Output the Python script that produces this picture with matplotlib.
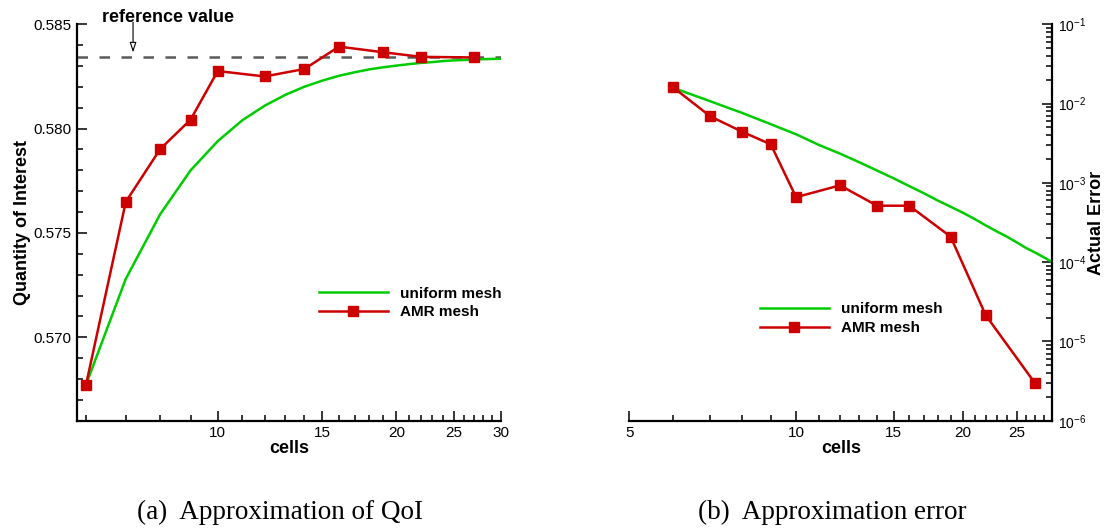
import numpy as np
import matplotlib
matplotlib.use('Agg')
import matplotlib.pyplot as plt
from matplotlib.ticker import FixedLocator, FormatStrFormatter, NullFormatter, LogLocator, MultipleLocator

plt.rcParams['font.family'] = ['Liberation Sans', 'DejaVu Sans']

# reference value of the quantity of interest
ref_value = 0.58344

# AMR mesh runs
amr_cells = [6, 7, 8, 9, 10, 12, 14, 16, 19, 22, 27]
amr_qoi = [0.56773, 0.57649, 0.57902, 0.58043, 0.58276, 0.58250, 0.58286,
           0.58393, 0.58366, 0.58344, 0.58341]
amr_err = [1.60e-2, 6.9e-3, 4.4e-3, 3.06e-3, 6.6e-4, 9.3e-4, 5.15e-4,
           5.15e-4, 2.1e-4, 2.13e-5, 2.96e-6]

# uniform mesh runs
uni_cells = list(range(6, 31))
uni_qoi = [0.56773, 0.5728, 0.5759, 0.5780, 0.5794, 0.5804, 0.5811, 0.58162,
           0.58201, 0.58230, 0.58253, 0.58270, 0.58284, 0.58294, 0.58302,
           0.58309, 0.58315, 0.58319, 0.58324, 0.58327, 0.58329, 0.58331,
           0.58333, 0.58334, 0.58335]
uni_err = [1.58e-2, 1.07e-2, 7.6e-3, 5.5e-3, 4.1e-3, 3.0e-3, 2.34e-3, 1.82e-3,
           1.43e-3, 1.14e-3, 9.1e-4, 7.4e-4, 6.0e-4, 5.0e-4, 4.2e-4, 3.5e-4,
           2.9e-4, 2.45e-4, 2.1e-4, 1.78e-4, 1.51e-4, 1.32e-4, 1.15e-4,
           1.0e-4, 8.7e-5]

red = '#cc0000'
green = '#00cc00'
W, H = 1109, 528

fig = plt.figure(figsize=(W / 100, H / 100), dpi=100)

def px_axes(x0, y0, x1, y1):
    return fig.add_axes([x0 / W, 1 - y1 / H, (x1 - x0) / W, (y1 - y0) / H])

def style_axes(ax, side):
    for s in ['top', 'left', 'right', 'bottom']:
        ax.spines[s].set_visible(s in ('bottom', side))
        ax.spines[s].set_linewidth(1.6)
    ax.tick_params(which='both', direction='in', width=1.1, labelsize=11,
                   top=False, left=(side == 'left'), right=(side == 'right'),
                   labelleft=(side == 'left'), labelright=(side == 'right'))
    ax.tick_params(which='major', length=7.5, pad=4)
    ax.tick_params(which='minor', length=4)
    ax.set_facecolor('none')

legend_opts = dict(loc='upper left', bbox_transform=fig.transFigure, frameon=False,
                   prop={'weight': 'bold', 'size': 11}, handlelength=4.5,
                   handletextpad=0.8, labelspacing=0.32, borderpad=0, borderaxespad=0)

# (a) quantity of interest
ax1 = px_axes(77.3, 24.3, 501, 420.7)
ax1.set_xscale('log')
ax1.set_xlim(5.8, 30)
ax1.set_ylim(0.566, 0.585)
ax1.axhline(ref_value, color='#5a5a5a', lw=1.8, dashes=(4.2, 4.6))
ax1.plot(uni_cells, uni_qoi, color=green, lw=1.8, label='uniform mesh')
ax1.plot(amr_cells, amr_qoi, color=red, lw=1.8, marker='s', ms=7.5,
         mfc=red, mec=red, label='AMR mesh')
style_axes(ax1, 'left')
ax1.xaxis.set_major_locator(FixedLocator([10, 15, 20, 25, 30]))
ax1.xaxis.set_minor_locator(FixedLocator([c for c in range(6, 30) if c % 5]))
ax1.xaxis.set_major_formatter(FormatStrFormatter('%d'))
ax1.xaxis.set_minor_formatter(NullFormatter())
ax1.yaxis.set_major_locator(MultipleLocator(0.005))
ax1.yaxis.set_minor_locator(MultipleLocator(0.001))
ax1.yaxis.set_major_formatter(FormatStrFormatter('%.3f'))
ax1.set_xlabel('cells', fontsize=13, fontweight='bold', labelpad=0)
ax1.set_ylabel('Quantity of Interest', fontsize=13, fontweight='bold', labelpad=2)
ax1.annotate('', xy=(7.2, 0.58365), xytext=(7.2, 0.5851),
             arrowprops=dict(arrowstyle='-|>,head_length=0.6,head_width=0.2',
                             fc='white', ec='black', lw=0.8, shrinkA=0, shrinkB=0),
             annotation_clip=False)
ax1.text(0.2136, 1.018, 'reference value', transform=ax1.transAxes,
         ha='center', va='center', fontsize=13, fontweight='bold')
ax1.legend(bbox_to_anchor=(319 / W, 1 - 286.5 / H), **legend_opts)

# (b) approximation error
ax2 = px_axes(629.3, 24.3, 1052.3, 420.7)
ax2.set_xscale('log')
ax2.set_yscale('log')
ax2.set_xlim(5, 29)
ax2.set_ylim(1e-6, 1e-1)
ax2.plot(uni_cells, uni_err, color=green, lw=1.8, label='uniform mesh')
ax2.plot(amr_cells, amr_err, color=red, lw=1.8, marker='s', ms=7.5,
         mfc=red, mec=red, label='AMR mesh')
style_axes(ax2, 'right')
ax2.tick_params(axis='y', labelsize=10, pad=4)
ax2.yaxis.set_label_position('right')
ax2.xaxis.set_major_locator(FixedLocator([5, 10, 15, 20, 25]))
ax2.xaxis.set_minor_locator(FixedLocator([c for c in range(6, 29) if c % 5]))
ax2.xaxis.set_major_formatter(FormatStrFormatter('%d'))
ax2.xaxis.set_minor_formatter(NullFormatter())
ax2.yaxis.set_major_locator(LogLocator(base=10, numticks=10))
ax2.yaxis.set_minor_locator(LogLocator(base=10, subs=np.arange(2, 10), numticks=10))
ax2.yaxis.set_minor_formatter(NullFormatter())
ax2.set_xlabel('cells', fontsize=13, fontweight='bold', labelpad=0)
ax2.set_ylabel('Actual Error', fontsize=13, fontweight='bold', labelpad=1)
ax2.legend(bbox_to_anchor=(760 / W, 1 - 302 / H), **legend_opts)

fig.text(280 / W, 1 - 512 / H, '(a)  Approximation of QoI', ha='center', va='center',
         fontsize=19.5, family='Liberation Serif')
fig.text(832 / W, 1 - 512 / H, '(b)  Approximation error', ha='center', va='center',
         fontsize=19.5, family='Liberation Serif')

fig.savefig('out.png', dpi=100)
